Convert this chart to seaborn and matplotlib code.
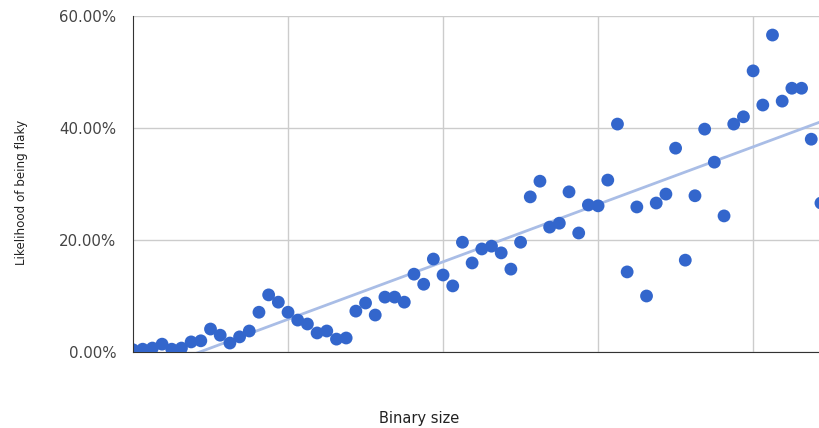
import numpy as np
import pandas as pd
import matplotlib
matplotlib.use("Agg")
import matplotlib.pyplot as plt
import seaborn as sns
from matplotlib.ticker import FuncFormatter

# binary size buckets (index) and flaky likelihood in percent
binary_size = list(range(72))
flaky_pct = [
    0.4, 0.5, 0.7, 1.4, 0.5, 0.7, 1.8, 2.0, 4.1, 3.0,
    1.6, 2.7, 3.75, 7.1, 10.2, 8.9, 7.1, 5.7, 5.0, 3.4,
    3.75, 2.3, 2.5, 7.3, 8.75, 6.6, 9.8, 9.8, 8.9, 13.9,
    12.1, 16.6, 13.75, 11.8, 19.6, 15.9, 18.4, 18.9, 17.7, 14.8,
    19.6, 27.7, 30.5, 22.3, 23.0, 28.6, 21.25, 26.25, 26.1, 30.7,
    40.7, 14.3, 25.9, 10.0, 26.6, 28.2, 36.4, 16.4, 27.9, 39.8,
    33.9, 24.3, 40.7, 42.0, 50.2, 44.1, 56.6, 44.8, 47.1, 47.1,
    38.0, 26.6,
]
y_ticks = [0, 20, 40, 60]
x_grid = [16, 32, 48, 64]

df = pd.DataFrame({"size": binary_size, "flaky": flaky_pct})

sns.set_style("white")
plt.rcParams['font.family'] = ['DejaVu Sans']

fig = plt.figure(figsize=(8.19, 4.28), dpi=100)
ax = fig.add_axes([133 / 819, 76 / 428, 1 - 133 / 819, 336 / 428])

# linear trendline under the points
sns.regplot(data=df, x="size", y="flaky", scatter=False, ci=None, truncate=True,
            line_kws={"color": "#a9bde6", "lw": 2, "zorder": 2}, ax=ax)
sns.scatterplot(data=df, x="size", y="flaky", color="#3366cc", s=85,
                edgecolor="none", zorder=3, ax=ax)

ax.set_xlim(0, 70.8)
ax.set_ylim(0, 60)
ax.set_yticks(y_ticks)
ax.yaxis.set_major_formatter(FuncFormatter(lambda v, p: f"{v:.2f}%"))
ax.set_xticks(x_grid)
ax.set_xticklabels([])
ax.grid(True, color="#cccccc", lw=1)
ax.set_axisbelow(True)

for s in ["top", "right"]:
    ax.spines[s].set_visible(False)
ax.spines["left"].set_color("#333333")
ax.spines["bottom"].set_color("#333333")
ax.spines["left"].set_zorder(4)
ax.tick_params(axis="y", length=8, color="#cccccc", labelsize=10.8,
               labelcolor="#444444", pad=4)
ax.tick_params(axis="x", length=0)
ax.set_xlabel("")
ax.set_ylabel("")

fig.text(22 / 819, 1 - 192 / 428, "Likelihood of being flaky", rotation=90,
         ha="center", va="center", fontsize=8.6, color="#222222")
fig.text(419 / 819, 1 - 418 / 428, "Binary size", ha="center", va="center",
         fontsize=10.5, color="#222222")

fig.savefig("out.png", dpi=100)
